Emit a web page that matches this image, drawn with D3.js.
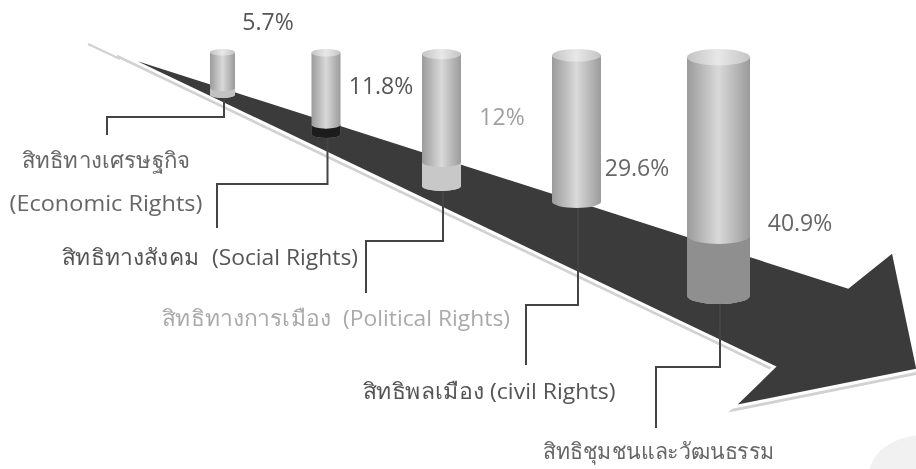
<!DOCTYPE html>
<html>
<head>
<meta charset="utf-8">
<script src="https://cdn.jsdelivr.net/npm/d3@7"></script>
<style>
body { margin: 0; background: #fff; }
text { font-family: "Open Sans", "Noto Sans", sans-serif; }
</style>
</head>
<body>
<div id="content"></div>
<script>
// values
const categories = ["Economic", "Social", "Political", "Civil", "Community"];
const shares = [5.7, 11.8, 12, 29.6, 40.9];
const shareLabels = ["5.7%", "11.8%", "12%", "29.6%", "40.9%"];
const lowerPart = [0.27, 0.19, 0.24, 0, 0.3];
const labelLines = [
    ["สิทธิทางเศรษฐกิจ", "(Economic Rights)"],
    ["สิทธิทางสังคม  (Social Rights)"],
    ["สิทธิทางการเมือง  (Political Rights)"],
    ["สิทธิพลเมือง (civil Rights)"],
    ["สิทธิชุมชนและวัฒนธรรม"]
];

const width = 916;
const height = 469;
const topY = 49;

const xScale = d3.scaleOrdinal().domain(categories).range([222.5, 326, 441.5, 576.5, 718.5]);
const widthScale = d3.scaleOrdinal().domain(categories).range([25, 29, 39, 49, 63]);
// the cylinders are not drawn in true proportion in the original, so the scale is piecewise
const heightScale = d3.scaleLinear().domain(shares).range([49, 89, 142, 159, 255]);

const lowerFill = ["#c2c2c2", "#1c1c1c", "#c8c8c8", "#c0c0c0", "#8f8f8f"];
const valueColor = ["#555", "#555", "#a0a0a0", "#666", "#666"];
const textColor = ["#666", "#555", "#aaa", "#555", "#666"];
const valuePos = [[268, 30], [381, 94], [502, 125], [637, 176], [800, 231]];
const textPos = [[106, 168], [210, 265], [336, 326], [489, 399], [659, 459]];
const textWidth = [[168, 193], [296], [348], [253], [232]];
const leaderPos = [[117, 107, 135], [184, 217, 228], [241, 366, 293], [305, 526, 365], [367, 656, 428]];

const canvas = d3.select("#content")
    .append("svg")
    .attr("width", width)
    .attr("height", height)
    .style("display", "block")
    .style("filter", "blur(0.4px)");

const defs = canvas.append("defs");
const addGradient = (id, stops) => {
    defs.append("linearGradient")
        .attr("id", id)
        .selectAll("stop")
        .data(stops)
        .enter()
        .append("stop")
        .attr("offset", d => d[0])
        .attr("stop-color", d => d[1]);
};
addGradient("body", [[0, "#9b9b9b"], [0.5, "#d9d9d9"], [1, "#9b9b9b"]]);
addGradient("lid", [[0, "#c4c4c4"], [0.5, "#e8e8e8"], [1, "#c4c4c4"]]);

// faint patch in the bottom corner
canvas.append("ellipse")
    .attr("cx", 925).attr("cy", 475)
    .attr("rx", 56).attr("ry", 40)
    .attr("fill", "#f1f1f1");

// arrow
const arrowLine = d3.line();
const arrow = [[117, 53], [848, 287], [893, 251], [918, 370], [733, 407], [774, 367]];

canvas.append("path")
    .attr("d", arrowLine([[88, 44], [120, 59]]))
    .attr("stroke", "#d2d2d2")
    .attr("stroke-width", 2)
    .attr("fill", "none");
canvas.append("path")
    .attr("d", arrowLine(arrow) + "Z")
    .attr("transform", "translate(0, 3)")
    .attr("fill", "#d2d2d2")
    .attr("stroke", "#d2d2d2")
    .attr("stroke-width", 3);
canvas.append("path")
    .attr("d", arrowLine(arrow) + "Z")
    .attr("fill", "#3b3b3b")
    .attr("stroke", "#fff")
    .attr("stroke-width", 3)
    .attr("stroke-linejoin", "miter");

// cylinders
const cylinderPath = (cat, y0, y1) => {
    const rx = widthScale(cat) / 2;
    const ry = rx * 0.26;
    const cx = xScale(cat);
    return `M${cx - rx},${y0 + ry} A${rx},${ry} 0 0 0 ${cx + rx},${y0 + ry}` +
        ` L${cx + rx},${y1 - ry} A${rx},${ry} 0 0 1 ${cx - rx},${y1 - ry} Z`;
};

// leader lines run from under each cylinder out to its label
const leaders = canvas.append("g");
leaders.selectAll("path")
    .data(categories)
    .enter()
    .append("path")
    .attr("d", (d, i) => {
        const p = leaderPos[i];
        const cx = xScale(d) + 1.5;
        return arrowLine([[cx, topY + heightScale(shares[i]) - 3], [cx, p[0]], [p[1], p[0]], [p[1], p[2]]]);
    })
    .attr("fill", "none")
    .attr("stroke", "#444")
    .attr("stroke-width", 2);

const cylinders = canvas.selectAll(".cylinder")
    .data(categories)
    .enter()
    .append("g")
    .attr("class", "cylinder");

cylinders.append("path")
    .attr("d", (d, i) => {
        const rx = widthScale(d) / 2;
        const cx = xScale(d);
        const ry = rx * 0.26;
        const y0 = topY + ry;
        const y1 = topY + heightScale(shares[i]) - ry;
        return `M${cx - rx},${y0} L${cx + rx},${y0} L${cx + rx},${y1} A${rx},${ry} 0 0 1 ${cx - rx},${y1} Z`;
    })
    .attr("fill", "url(#body)");

cylinders.append("ellipse")
    .attr("cx", d => xScale(d))
    .attr("cy", d => topY + widthScale(d) / 2 * 0.26)
    .attr("rx", d => widthScale(d) / 2)
    .attr("ry", d => widthScale(d) / 2 * 0.26)
    .attr("fill", "url(#lid)");

cylinders.filter((d, i) => lowerPart[i] > 0)
    .append("path")
    .attr("d", d => {
        const i = categories.indexOf(d);
        const h = heightScale(shares[i]);
        return cylinderPath(d, topY + h * (1 - lowerPart[i]), topY + h);
    })
    .attr("fill", d => lowerFill[categories.indexOf(d)]);

// value labels
canvas.selectAll(".value")
    .data(shareLabels)
    .enter()
    .append("text")
    .attr("class", "value")
    .attr("x", (d, i) => valuePos[i][0])
    .attr("y", (d, i) => valuePos[i][1])
    .attr("text-anchor", "middle")
    .attr("font-size", 23)
    .attr("fill", (d, i) => valueColor[i])
    .text(d => d);

// category labels, one text per line so each can be fitted to its width
const labels = canvas.selectAll(".label")
    .data(labelLines)
    .enter()
    .append("g")
    .attr("class", "label")
    .attr("fill", (d, i) => textColor[i]);

labels.selectAll("text")
    .data((d, i) => d.map((line, j) => ({ line, j, i })))
    .enter()
    .append("text")
    .attr("x", d => textPos[d.i][0])
    .attr("y", d => textPos[d.i][1] + d.j * 43)
    .attr("text-anchor", "middle")
    .attr("font-size", 22)
    .attr("xml:space", "preserve")
    .attr("textLength", d => textWidth[d.i][d.j])
    .attr("lengthAdjust", "spacingAndGlyphs")
    .text(d => d.line);
</script>
</body>
</html>
